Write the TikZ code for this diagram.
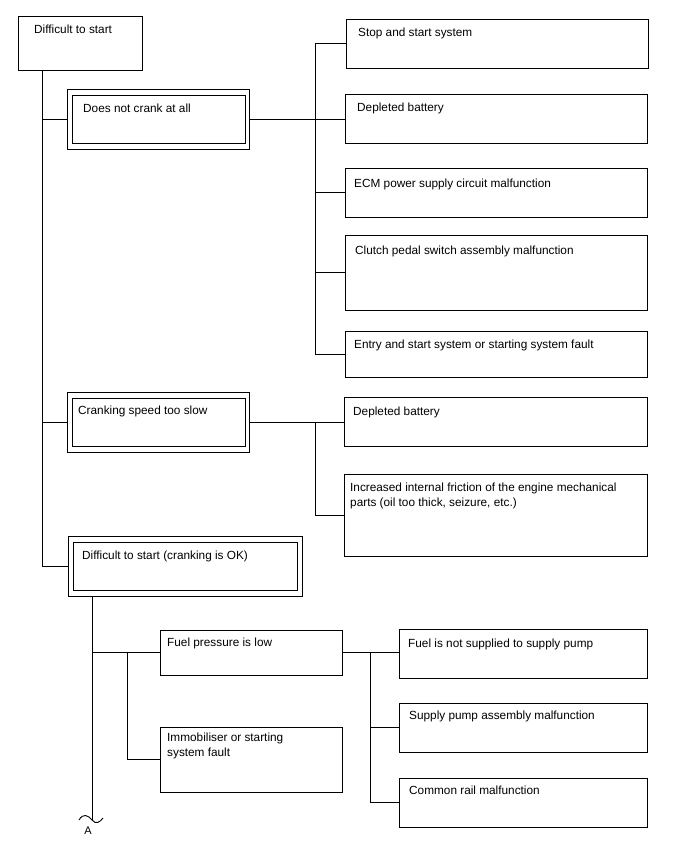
\documentclass[tikz,border=0pt]{standalone}
\usepackage{fontspec}
\setmainfont{Liberation Sans}
\usetikzlibrary{fit}
\tikzset{
  boxn/.style={draw, line width=1pt, inner sep=0pt, fit={#1}},
  outern/.style={draw, line width=0.9pt, inner sep=0pt, fit={#1}},
  innern/.style={draw, line width=1pt, inner sep=0pt, fit={#1}},
  txt/.style={anchor=base west, inner sep=0pt, font=\fontsize{11.8}{14.5}\selectfont},
  txt2/.style={anchor=north west, inner sep=0pt, align=left, font=\fontsize{11.8}{14.5}\selectfont},
  conn/.style={line width=1pt}
}
\begin{document}
\begin{tikzpicture}[x=1pt,y=-1pt]
\useasboundingbox (0,0) rectangle (688,852);
% top
\node[boxn={(18,16) (142,70)}] (top) {};
\node[txt] (ttop) at (34,33) {Difficult to start};
% double boxes
\node[outern={(67,89) (249,149)}] (dnc) {};
\node[innern={(72,95) (245,143)}] (dnci) {};
\node[txt] (tdnc) at (83,112) {Does not crank at all};
\node[outern={(67,392) (249,452)}] (css) {};
\node[innern={(72,398) (245,446)}] (cssi) {};
\node[txt] (tcss) at (78,414) {Cranking speed too slow};
\node[outern={(68,536) (302,596)}] (dok) {};
\node[innern={(73,542) (297,590)}] (doki) {};
\node[txt] (tdok) at (82,559) {Difficult to start (cranking is OK)};
% right column 1
\node[boxn={(346,19) (648,68)}] (r1) {};
\node[txt] (tr1) at (358,36) {Stop and start system};
\node[boxn={(345,94) (647,143)}] (r2) {};
\node[txt] (tr2) at (357,111) {Depleted battery};
\node[boxn={(345,168) (647,217)}] (r3) {};
\node[txt] (tr3) at (354,187) {ECM power supply circuit malfunction};
\node[boxn={(345,235) (647,310)}] (r4) {};
\node[txt] (tr4) at (355,254) {Clutch pedal switch assembly malfunction};
\node[boxn={(345,331) (647,377)}] (r5) {};
\node[txt] (tr5) at (354,348) {Entry and start system or starting system fault};
% right column 2
\node[boxn={(344,397) (647,446)}] (s1) {};
\node[txt] (ts1) at (353,415) {Depleted battery};
\node[boxn={(344,474) (647,556)}] (s2) {};
\node[txt2] (ts2) at (350,483) {Increased internal friction of the engine mechanical\\parts (oil too thick, seizure, etc.)};
% lower
\node[boxn={(160,630) (342,675)}] (fp) {};
\node[txt] (tfp) at (167,646) {Fuel pressure is low};
\node[boxn={(160,727) (342,792)}] (im) {};
\node[txt2] (tim) at (167,733) {Immobiliser or starting\\system fault};
\node[boxn={(399,629) (647,678)}] (f1) {};
\node[txt] (tf1) at (408,647) {Fuel is not supplied to supply pump};
\node[boxn={(399,703) (647,752)}] (f2) {};
\node[txt] (tf2) at (409,719) {Supply pump assembly malfunction};
\node[boxn={(399,778) (647,827)}] (f3) {};
\node[txt] (tf3) at (409,794) {Common rail malfunction};
% coordinates
\coordinate (mainx) at (42,0);
\coordinate (c1x) at (315,0);
\coordinate (c2x) at (315,0);
\coordinate (lx) at (92,0);
\coordinate (ix) at (127,0);
\coordinate (fx) at (370,0);
\coordinate (aend) at (92,820);
% main trunk
\draw[conn] (top.south -| mainx) -- (dok.west -| mainx);
\draw[conn] (dnc.west -| mainx) -- (dnc.west);
\draw[conn] (css.west -| mainx) -- (css.west);
\draw[conn] (dok.west -| mainx) -- (dok.west);
% does not crank branch
\draw[conn] (dnc.east) -- (dnc.east -| r2.west);
\draw[conn] (r1.west -| c1x) -- (r5.west -| c1x);
\draw[conn] (r1.west -| c1x) -- (r1.west);
\draw[conn] (r3.west -| c1x) -- (r3.west);
\draw[conn] (r4.west -| c1x) -- (r4.west);
\draw[conn] (r5.west -| c1x) -- (r5.west);
% cranking slow branch
\draw[conn] (css.east) -- (css.east -| s1.west);
\draw[conn] (css.east -| c2x) |- (s2.west);
% cranking ok branch
\draw[conn] (dok.south -| lx) -- (aend);
\draw[conn] (fp.west -| lx) -- (fp.west);
\draw[conn] (fp.west -| ix) |- (im.west);
\draw[conn] (fp.east) -- (fp.east -| f1.west);
\draw[conn] (fp.east -| fx) |- (f3.west);
\draw[conn] (f2.west -| fx) -- (f2.west);
% break symbol
\draw[line width=0.9pt] (79,820) .. controls (83,813) and (88,815) .. (aend) .. controls (96,825) and (100,822) .. (103,818);
\node[inner sep=0pt, font=\fontsize{11}{13}\selectfont] (A) at (88,831) {A};
\end{tikzpicture}
\end{document}
